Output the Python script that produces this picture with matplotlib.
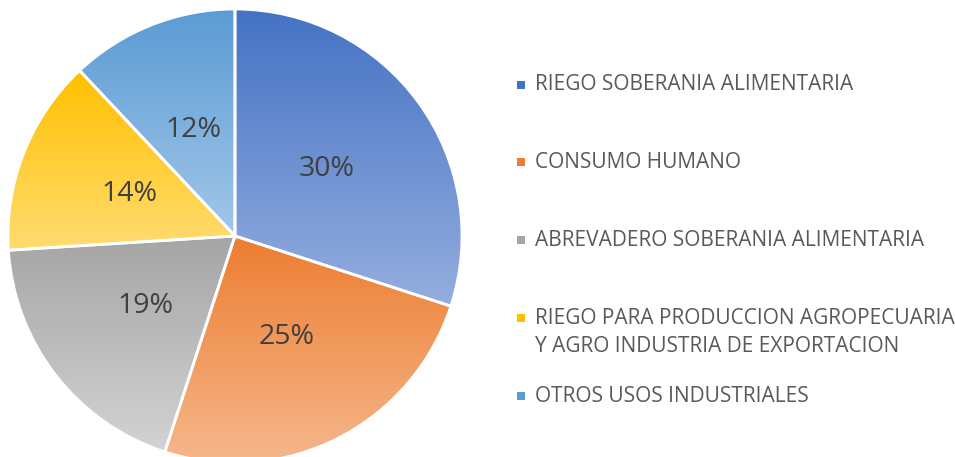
import numpy as np
import matplotlib.pyplot as plt
from matplotlib.colors import LinearSegmentedColormap
from matplotlib.patches import Rectangle

categories = ['RIEGO SOBERANIA ALIMENTARIA',
              'CONSUMO HUMANO',
              'ABREVADERO SOBERANIA ALIMENTARIA',
              'RIEGO PARA PRODUCCION AGROPECUARIA\nY AGRO INDUSTRIA DE EXPORTACION',
              'OTROS USOS INDUSTRIALES']
shares = [30, 25, 19, 14, 12]
top_colors = ['#4472C4', '#ED7D31', '#A5A5A5', '#FFC000', '#5B9BD5']
bottom_colors = ['#95AEDF', '#F5B88C', '#D3D3D3', '#FFDC70', '#A2C7E8']

W, H = 955, 457
fig = plt.figure(figsize=(W / 100, H / 100), dpi=100)
plt.rcParams['font.family'] = ['Open Sans', 'DejaVu Sans']

# pie axes placed in pixels
cx, cy, r = 235, 236, 227
ax = fig.add_axes([(cx - r) / W, (H - cy - r) / H, 2 * r / W, 2 * r / H])
ax.set_aspect('equal')
ax.axis('off')

wedges, texts, autotexts = ax.pie(shares, radius=1, startangle=90, counterclock=False,
                                  autopct='%1.0f%%', pctdistance=0.5,
                                  wedgeprops=dict(edgecolor='white', linewidth=2),
                                  textprops=dict(fontsize=20.5, color='#404040'))

# vertical gradient inside each wedge
for w, c0, c1 in zip(wedges, top_colors, bottom_colors):
    verts = w.get_path().vertices
    y0, y1 = verts[:, 1].min(), verts[:, 1].max()
    x0, x1 = verts[:, 0].min(), verts[:, 0].max()
    cmap = LinearSegmentedColormap.from_list('g', [c1, c0])
    grad = np.linspace(0, 1, 256).reshape(-1, 1)
    im = ax.imshow(grad, cmap=cmap, extent=[x0, x1, y0, y1], origin='lower',
                   aspect='auto', zorder=1)
    im.set_clip_path(w)
    w.set_facecolor('none')
    w.set_zorder(2)
for t in autotexts:
    t.set_zorder(5)
ax.set_xlim(-1, 1)
ax.set_ylim(-1, 1)

# legend
leg_y = [85, 162, 240, 332.5, 396]
for lab, c0, c1, y in zip(categories, top_colors, bottom_colors, leg_y):
    my = y if '\n' not in lab else 318
    fig.patches.append(Rectangle((517 / W, (H - my - 4) / H), 8 / W, 8 / H,
                                 transform=fig.transFigure, facecolor=c0,
                                 edgecolor='none'))
    fig.text(535 / W, (H - y) / H, lab, fontsize=15, color='#595959',
             va='center', linespacing=1.5)

fig.savefig('out.png', dpi=100)
